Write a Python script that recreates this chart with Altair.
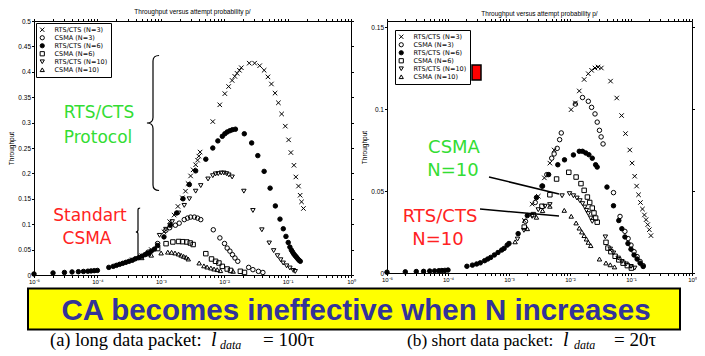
import altair as alt
import pandas as pd

FONT = "Liberation Sans"
SERIES = ["RTS/CTS (N=3)", "CSMA (N=3)", "RTS/CTS (N=6)", "CSMA (N=6)", "RTS/CTS (N=10)", "CSMA (N=10)"]
SHAPES = ["M-1,-1L1,1M-1,1L1,-1", "circle", "circle", "square", "triangle-down", "triangle-up"]
FILLS = ["transparent", "transparent", "black", "transparent", "transparent", "transparent"]
STROKES = ["black"] * 6

# ---------------- (a) long data packet : log10(p) and throughput ----------------
A_LOW_LP = [-5.0, -4.7, -4.52, -4.4, -4.3, -4.22, -4.15, -4.1, -4.05, -4.0,
            -3.82, -3.75, -3.7, -3.65, -3.6, -3.55, -3.5, -3.45, -3.4, -3.35, -3.3, -3.25, -3.2, -3.15, -3.1]
A_LOW_S = [0.002, 0.004, 0.005, 0.006, 0.0065, 0.007, 0.0075, 0.008, 0.0085, 0.009,
           0.015, 0.017, 0.019, 0.021, 0.023, 0.025, 0.027, 0.029, 0.032, 0.034, 0.037, 0.040, 0.043, 0.047, 0.051]

A_RTS3_LP = [-3.45, -3.3, -3.15, -3.05, -2.95, -2.86, -2.79, -2.73, -2.66, -2.61, -2.57, -2.53, -2.49, -2.45,
             -2.42, -2.4, -2.38, -2.18, -2.07, -1.99, -1.93, -1.875, -1.833, -1.797, -1.76, -1.73, -1.605,
             -1.52, -1.44, -1.37, -1.31, -1.255, -1.198, -1.145, -1.094, -1.036, -0.984, -0.948, -0.9,
             -0.87, -0.828, -0.802, -0.78, -0.75]
A_RTS3_S = [0.030, 0.038, 0.050, 0.060, 0.085, 0.105, 0.118, 0.135, 0.152, 0.165, 0.180, 0.195, 0.207, 0.217,
            0.226, 0.234, 0.242, 0.302, 0.335, 0.357, 0.371, 0.383, 0.391, 0.397, 0.403, 0.408, 0.417,
            0.417, 0.412, 0.403, 0.39, 0.376, 0.358, 0.339, 0.317, 0.293, 0.266, 0.241, 0.216,
            0.193, 0.175, 0.157, 0.144, 0.131]

A_CSMA3_LP = [-3.2, -3.05, -2.92, -2.86, -2.77, -2.71, -2.63, -2.578, -2.53, -2.47, -2.42, -2.37, -2.172,
              -2.068, -1.995, -1.953, -1.91, -1.87, -1.83, -1.786, -1.614, -1.547, -1.46, -1.39]
A_CSMA3_S = [0.045, 0.062, 0.088, 0.093, 0.098, 0.102, 0.109, 0.112, 0.114, 0.114, 0.112, 0.109, 0.089,
             0.073, 0.062, 0.053, 0.047, 0.040, 0.0335, 0.027, 0.015, 0.0105, 0.0072, 0.005]

A_RTS6_LP = [-3.05, -2.95, -2.85, -2.75, -2.65, -2.55, -2.45, -2.29, -2.18, -2.1, -2.03, -1.99, -1.953,
             -1.911, -1.87, -1.823, -1.683, -1.567, -1.47, -1.37, -1.276, -1.193, -1.12, -1.068, -1.026,
             -0.99, -0.964, -0.94, -0.92, -0.9, -0.88, -0.86, -0.84, -0.82, -0.8]
A_RTS6_S = [0.058, 0.075, 0.098, 0.122, 0.15, 0.178, 0.205, 0.228, 0.25, 0.264, 0.273, 0.278, 0.2815,
            0.284, 0.286, 0.287, 0.278, 0.26, 0.235, 0.204, 0.171, 0.136, 0.110, 0.091, 0.076,
            0.064, 0.055, 0.049, 0.045, 0.041, 0.038, 0.035, 0.032, 0.029, 0.027]

A_CSMA6_LP = [-3.2, -3.05, -2.917, -2.81, -2.72, -2.656, -2.59, -2.536, -2.49, -2.29, -2.2, -2.136, -2.083,
              -2.03, -1.953, -1.9, -1.745, -1.68]
A_CSMA6_S = [0.042, 0.052, 0.0617, 0.065, 0.066, 0.0656, 0.065, 0.063, 0.060, 0.042, 0.0315, 0.027, 0.0236,
             0.017, 0.0118, 0.009, 0.0073, 0.005]

A_RTS10_LP = [-3.02, -2.92, -2.82, -2.72, -2.63, -2.55, -2.45, -2.37, -2.255, -2.18, -2.136, -2.094, -2.047,
              -2.005, -1.964, -1.927, -1.875, -1.69, -1.547, -1.406, -1.29, -1.22, -1.16, -1.11, -1.07,
              -1.016, -0.964, -0.91, -0.88]
A_RTS10_S = [0.078, 0.09, 0.105, 0.122, 0.137, 0.150, 0.165, 0.176, 0.189, 0.1955, 0.199, 0.1995, 0.2008,
             0.2008, 0.1995, 0.197, 0.193, 0.165, 0.127, 0.089, 0.063, 0.048, 0.038, 0.030, 0.0236,
             0.018, 0.0138, 0.009, 0.007]

A_CSMA10_LP = [-3.3, -3.15, -2.995, -2.89, -2.83, -2.776, -2.72, -2.68, -2.64, -2.6, -2.567, -2.395, -2.32,
               -2.27, -2.21, -2.16, -2.11, -2.06, -1.86]
A_CSMA10_S = [0.034, 0.039, 0.0433, 0.045, 0.0446, 0.0433, 0.0413, 0.039, 0.0367, 0.0348, 0.0315, 0.0236, 0.018,
              0.0157, 0.0138, 0.0118, 0.0105, 0.0085, 0.0073]

# ---------------- (b) short data packet ----------------
B_LOW_LP = [-5.0, -4.7, -4.52, -4.4, -4.3, -4.22, -4.15, -4.1, -4.05, -4.0,
            -3.69, -3.6, -3.53, -3.47, -3.4, -3.35, -3.3, -3.24, -3.18, -3.12, -3.08, -3.03, -3.0]
B_LOW_S = [0.0005, 0.0007, 0.0009, 0.001, 0.0012, 0.0013, 0.0014, 0.0015, 0.0016, 0.0018,
           0.0041, 0.0048, 0.0055, 0.0062, 0.0075, 0.0085, 0.0095, 0.011, 0.0125, 0.014, 0.015, 0.017, 0.018]

B_RTS3_LP = [-2.75, -2.62, -2.52, -2.42, -2.33, -2.26, -1.982, -1.912, -1.848, -1.768, -1.7, -1.646, -1.59,
             -1.54, -1.486, -1.335, -1.234, -1.154, -1.09, -1.02, -0.982, -0.94, -0.908, -0.876, -0.845,
             -0.812, -0.78, -0.753, -0.726, -0.7, -0.673]
B_RTS3_S = [0.032, 0.042, 0.0468, 0.058, 0.067, 0.075, 0.0996, 0.1037, 0.111, 0.118, 0.1215, 0.1236, 0.125,
            0.1256, 0.125, 0.117, 0.1067, 0.096, 0.085, 0.075, 0.067, 0.059, 0.053, 0.0477, 0.043,
            0.039, 0.0354, 0.0325, 0.0295, 0.0264, 0.0228]

B_CSMA3_LP = [-2.73, -2.57, -2.46, -2.38, -2.3, -2.26, -2.21, -2.17, -2.143, -1.912, -1.795, -1.7, -1.646,
              -1.59, -1.554, -1.517, -1.49, -1.458, -1.287, -1.18, -1.1, -1.047, -1.0, -0.95, -0.9, -0.85, -0.8]
B_CSMA3_S = [0.0315, 0.043, 0.053, 0.060, 0.070, 0.0726, 0.076, 0.0813, 0.0854, 0.103, 0.107, 0.1047, 0.101,
             0.097, 0.092, 0.087, 0.083, 0.0787, 0.049, 0.0345, 0.0254, 0.021, 0.017, 0.013, 0.010, 0.007, 0.0045]

B_RTS6_LP = [-2.85, -2.7, -2.55, -2.45, -2.35, -2.2, -2.09, -1.944, -1.848, -1.795, -1.742, -1.69, -1.635,
             -1.58, -1.554, -1.394, -1.287, -1.2, -1.15, -1.1, -1.05, -1.0, -0.95, -0.9, -0.85, -0.8]
B_RTS6_S = [0.024, 0.035, 0.046, 0.053, 0.060, 0.066, 0.069, 0.072, 0.0742, 0.0742, 0.0732, 0.0721, 0.070,
            0.066, 0.0646, 0.0524, 0.041, 0.032, 0.027, 0.022, 0.018, 0.0145, 0.011, 0.0085, 0.006, 0.004]

B_CSMA6_LP = [-2.75, -2.6, -2.46, -2.33, -2.22, -2.02, -1.9, -1.82, -1.768, -1.715, -1.677, -1.635, -1.607,
              -1.58, -1.554, -1.41, -1.378, -1.33, -1.26, -1.2, -1.13, -1.06, -0.994]
B_CSMA6_S = [0.028, 0.0356, 0.0407, 0.0477, 0.0573, 0.0614, 0.0585, 0.0545, 0.0504, 0.0463, 0.043, 0.0396, 0.0366,
             0.0335, 0.031, 0.0187, 0.0152, 0.013, 0.0102, 0.008, 0.006, 0.0045, 0.003]

B_RTS10_LP = [-2.86, -2.756, -2.62, -2.52, -2.41, -2.33, -2.13, -2.008, -1.944, -1.886, -1.838, -1.795, -1.757,
              -1.73, -1.7, -1.66, -1.635, -1.42, -1.34, -1.287, -1.21, -1.15, -1.08, -1.0, -0.94]
B_RTS10_S = [0.0207, 0.026, 0.0345, 0.0386, 0.0407, 0.0417, 0.0471, 0.0484, 0.0471, 0.0457, 0.0441, 0.0423, 0.0402,
             0.0382, 0.0362, 0.0335, 0.0315, 0.022, 0.0146, 0.0122, 0.0091, 0.007, 0.0055, 0.004, 0.003]

B_CSMA10_LP = [-2.9, -2.7, -2.55, -2.45, -2.33, -2.094, -1.98, -1.9, -1.848, -1.806, -1.768, -1.73, -1.7,
               -1.66, -1.517, -1.41, -1.34, -1.27]
B_CSMA10_S = [0.019, 0.027, 0.034, 0.038, 0.0407, 0.0382, 0.0346, 0.0305, 0.0274, 0.025, 0.0228, 0.0207, 0.0187,
              0.0167, 0.0085, 0.0061, 0.005, 0.0037]

X_MAJOR = [1e-5, 1e-4, 1e-3, 1e-2, 1e-1, 1.0]
X_ALL = sorted(X_MAJOR + [m * 10.0 ** k for k in range(-5, 0) for m in range(2, 10)])
A_YTICKS = [0, 0.05, 0.1, 0.15, 0.2, 0.25, 0.3, 0.35, 0.4, 0.45, 0.5]
B_YTICKS = [0, 0.05, 0.1, 0.15]
TITLE = "Throughput versus attempt probability p/"


def frame(groups):
    rows = []
    for name, lp, s in groups:
        for a, b in zip(lp, s):
            rows.append({"series": name, "p": 10.0 ** a, "s": b})
    return pd.DataFrame(rows)


df_a = frame([
    ("RTS/CTS (N=6)", A_LOW_LP, A_LOW_S),
    ("RTS/CTS (N=3)", A_RTS3_LP, A_RTS3_S), ("CSMA (N=3)", A_CSMA3_LP, A_CSMA3_S),
    ("RTS/CTS (N=6)", A_RTS6_LP, A_RTS6_S), ("CSMA (N=6)", A_CSMA6_LP, A_CSMA6_S),
    ("RTS/CTS (N=10)", A_RTS10_LP, A_RTS10_S), ("CSMA (N=10)", A_CSMA10_LP, A_CSMA10_S),
])
df_b = frame([
    ("RTS/CTS (N=6)", B_LOW_LP, B_LOW_S),
    ("RTS/CTS (N=3)", B_RTS3_LP, B_RTS3_S), ("CSMA (N=3)", B_CSMA3_LP, B_CSMA3_S),
    ("RTS/CTS (N=6)", B_RTS6_LP, B_RTS6_S), ("CSMA (N=6)", B_CSMA6_LP, B_CSMA6_S),
    ("RTS/CTS (N=10)", B_RTS10_LP, B_RTS10_S), ("CSMA (N=10)", B_CSMA10_LP, B_CSMA10_S),
])

E = "round(log(datum.value)/LN10)"
LABEL_EXPR = (f"abs(log(datum.value)/LN10 - {E}) > 0.01 ? '' : {E} == -5 ? '10⁻⁵' : {E} == -4 ? '10⁻⁴' : "
              f"{E} == -3 ? '10⁻³' : {E} == -2 ? '10⁻²' : {E} == -1 ? '10⁻¹' : '10⁰'")


def legend(lx, ly):
    return alt.Legend(title=None, orient="none", legendX=lx, legendY=ly, padding=3, strokeColor="black",
                      fillColor="white", labelFontSize=6.5, labelFont="DejaVu Sans", labelColor="black",
                      symbolSize=18, symbolStrokeWidth=1, symbolStrokeColor="black",
                      rowPadding=0, clipHeight=7.5, labelOffset=9, labelLimit=200)


def text(t, x, y, color, size, font="DejaVu Sans", **kw):
    return alt.Chart(alt.Data(values=[{"t": t}])).mark_text(
        color=color, fontSize=size, font=font, **kw).encode(
        x=alt.value(x), y=alt.value(y), text="t:N")


BRACE = "M0.09,-1Q0,-1 0,-0.92L0,-0.08Q0,0 -0.09,0Q0,0 0,0.08L0,0.92Q0,1 0.09,1"


def brace(x, y, h):
    return alt.Chart(alt.Data(values=[{"t": 1}])).mark_point(
        shape=BRACE, size=h * h, stroke="black", strokeWidth=1.2, filled=False, opacity=1).encode(
        x=alt.value(x), y=alt.value(y))


def panel(df, ymax, yvals, w, h, title, title_offset, leg_xy, extras):
    xb = alt.X("p:Q", scale=alt.Scale(type="log", domain=[1e-5, 1], nice=False),
               axis=alt.Axis(orient="bottom", values=X_ALL, labelExpr=LABEL_EXPR, labelFontSize=6,
                             labelFont=FONT, labelColor="black", labelPadding=1, tickSize=2.5,
                             tickColor="black", labelFlush=False, labelOverlap=False, grid=False,
                             domain=False, title=None))
    yl = alt.Y("s:Q", scale=alt.Scale(domain=[0, ymax], nice=False),
               axis=alt.Axis(orient="left", values=yvals, format="~g", labelFontSize=6.5, labelFont=FONT,
                             labelColor="black", labelPadding=1, tickSize=2.5, tickColor="black",
                             labelFlush=False, grid=False, domain=False, title="Throughput",
                             titleFontSize=6.5, titleFont=FONT, titleFontWeight="normal",
                             titleColor="black", titlePadding=3))
    pts = alt.Chart(df).mark_point(size=20, strokeWidth=1, opacity=1).encode(
        x=xb, y=yl,
        shape=alt.Shape("series:N", scale=alt.Scale(domain=SERIES, range=SHAPES), legend=legend(*leg_xy)),
        fill=alt.Fill("series:N", scale=alt.Scale(domain=SERIES, range=FILLS), legend=legend(*leg_xy)),
        stroke=alt.Stroke("series:N", scale=alt.Scale(domain=SERIES, range=STROKES), legend=legend(*leg_xy)),
    )
    mirror = alt.Chart(df).mark_point(opacity=0).encode(
        x=alt.X("p:Q", axis=alt.Axis(orient="top", values=X_ALL, labels=False, tickSize=2.5,
                                     tickColor="black", domain=False, grid=False, title=None)),
        y=alt.Y("s:Q", axis=alt.Axis(orient="right", values=yvals, labels=False, tickSize=2.5,
                                     tickColor="black", domain=False, grid=False, title=None)),
    )
    return alt.layer(pts, mirror, *extras).properties(
        width=w, height=h,
        title=alt.TitleParams(text=title, fontSize=6.5, font=FONT, fontWeight="normal", color="black",
                              offset=title_offset, anchor="middle"),
        view=alt.ViewBackground(stroke="black", strokeWidth=1),
    )


GREEN = "#33dd33"
RED = "#ff2222"

# left plot area: page x 35..352, y 18..272
left = panel(df_a, 0.5, A_YTICKS, 317, 254, TITLE, 3, (2, 2), [
    text("RTS/CTS", 65, 92, GREEN, 17),
    text("Protocol", 64, 117, GREEN, 17),
    brace(119, 102, 135),
    text("Standart", 56, 195, RED, 17),
    text("CSMA", 53, 218, RED, 17),
    brace(104, 211, 48),
])

# right plot area: page x ~387..692, y 18..270 (0.15 sits 6 px below the top)
B_H = 252
B_YMAX = 0.15 * B_H / (B_H - 6)
right = panel(df_b, B_YMAX, B_YTICKS, 305, B_H, TITLE, 1, (8, 9), [
    alt.Chart(alt.Data(values=[{"t": 1}])).mark_rect(fill="#ff0000", stroke="black", strokeWidth=1.5).encode(
        x=alt.value(85), x2=alt.value(94), y=alt.value(44), y2=alt.value(59)),
    text("CSMA", 67, 127, GREEN, 18),
    text("N=10", 66, 150, GREEN, 18),
    text("RTS/CTS", 53, 196, RED, 18),
    text("N=10", 51, 219, RED, 18),
    alt.Chart(alt.Data(values=[{"t": 1}])).mark_rule(color="black", strokeWidth=1.5).encode(
        x=alt.value(102), x2=alt.value(172), y=alt.value(156), y2=alt.value(173)),
    alt.Chart(alt.Data(values=[{"t": 1}])).mark_rule(color="black", strokeWidth=1.5).encode(
        x=alt.value(93), x2=alt.value(172), y=alt.value(188), y2=alt.value(195)),
])

top = alt.hconcat(left, right, spacing=5).resolve_scale(
    shape="independent", fill="independent", stroke="independent").resolve_legend(
    shape="independent", fill="independent", stroke="independent")


def rect(x, x2, y, y2, **kw):
    return alt.Chart(alt.Data(values=[{"t": 1}])).mark_rect(**kw).encode(
        x=alt.value(x), x2=alt.value(x2), y=alt.value(y), y2=alt.value(y2))


SERIF = "Liberation Serif"
# bottom panel origin sits under the left plot origin (page x ~34)
bottom = alt.layer(
    rect(-6, 646, 2.5, 43.5, fill="#ffff00", stroke="black", strokeWidth=2),
    text("CA becomes ineffective when N increases", 322, 33.5, "#333399", 29.5, font=FONT,
         fontWeight="bold", baseline="alphabetic"),
    text("(a) long data packet:", 16, 60, "black", 18.5, font=SERIF, align="left", baseline="alphabetic"),
    text("l", 177, 60, "black", 20, font=SERIF, fontStyle="italic", align="left", baseline="alphabetic"),
    text("data", 186, 62.5, "black", 12, font=SERIF, fontStyle="italic", align="left", baseline="alphabetic"),
    text("= 100τ", 229, 60, "black", 19, font=SERIF, align="left", baseline="alphabetic"),
    text("(b) short data packet:", 373, 60, "black", 17.3, font=SERIF, align="left", baseline="alphabetic"),
    text("l", 529, 60, "black", 20, font=SERIF, fontStyle="italic", align="left", baseline="alphabetic"),
    text("data", 540, 62.5, "black", 12, font=SERIF, fontStyle="italic", align="left", baseline="alphabetic"),
    text("= 20τ", 580, 60, "black", 19, font=SERIF, align="left", baseline="alphabetic"),
).properties(width=646, height=63)

chart = alt.vconcat(top, bottom, spacing=1).properties(padding=0, background="white").configure_view(
    strokeWidth=0)

chart.save("out.html", embed_options={"renderer": "svg", "actions": False})
